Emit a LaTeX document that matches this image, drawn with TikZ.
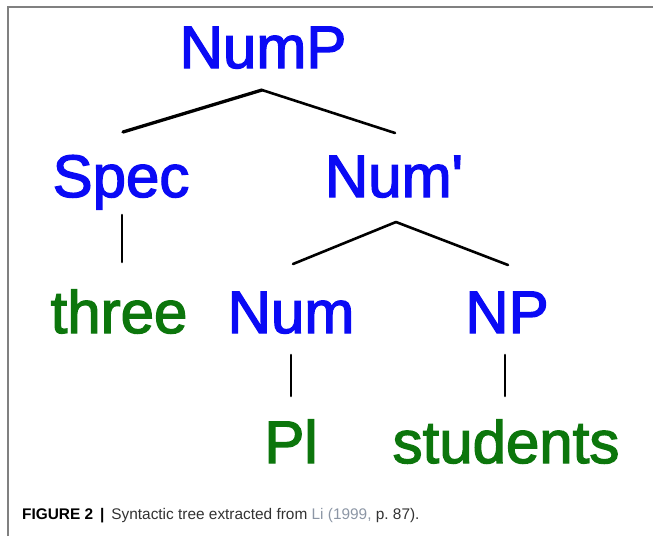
\documentclass[tikz,border=0pt]{standalone}
\usepackage{fontspec}
\setmainfont{Liberation Sans}
\newfontfamily\treefont[FakeBold=2.2]{Liberation Sans}
\usetikzlibrary{calc}
\definecolor{catblue}{RGB}{10,10,245}
\definecolor{wordgreen}{RGB}{12,118,12}
\definecolor{framegray}{RGB}{128,128,128}
\definecolor{captext}{RGB}{50,50,50}
\definecolor{caplink}{RGB}{140,150,165}
\tikzset{
  lbl/.style={anchor=base, inner sep=0pt, font=\treefont\fontsize{60}{60}\selectfont},
  cat/.style={lbl, text=catblue},
  word/.style={lbl, text=wordgreen},
  branch/.style={line width=2.6pt, line cap=round, black},
  thickbranch/.style={line width=3.3pt, line cap=round, black},
  framerule/.style={line width=1.4pt, framegray},
}
\begin{document}
\begin{tikzpicture}[x=1pt, y=-1pt]
\useasboundingbox (0,0) rectangle (655,536);
% frame
\coordinate (fTL) at (8,7);
\coordinate (fTR) at (653,7);
\coordinate (fBL) at (8,536);
\draw[framerule] (fBL) -- (fTL) -- (fTR);
% nodes
\node[cat]  (NumP)  at (263,68)  {NumP};
\node[cat]  (Spec)  at (121,197) {Spec};
\node[cat]  (Numb)  at (394,197) {Num'};
\node[word] (three) at (119,333) {three};
\node[cat]  (Num)   at (291,333) {Num};
\node[cat]  (NP)    at (507,333) {NP};
\node[word] (Pl)    at (291,463) {Pl};
\node[word] (stud)  at (506,463) {students};
% branches
\draw[thickbranch] ($(NumP.base)+(-1,22)$) -- ($(Spec.base)+(2,-65)$);
\draw[branch] ($(NumP.base)+(-1,22)$) -- ($(Numb.base)+(1,-64)$);
\draw[branch] ($(Spec.base)+(1,18)$) -- ($(three.base)+(3,-71)$);
\draw[branch] ($(Numb.base)+(2,25)$) -- ($(Num.base)+(2,-69)$);
\draw[branch] ($(Numb.base)+(2,25)$) -- ($(NP.base)+(1,-68)$);
\draw[branch] ($(Num.base)+(0,22)$) -- ($(Pl.base)+(0,-67)$);
\draw[branch] ($(NP.base)+(-2,22)$) -- ($(stud.base)+(-1,-67)$);
% caption
\node[anchor=base west, inner sep=0pt, font=\fontsize{15.4}{18}\selectfont] (cap) at (22,519)
  {\textbf{FIGURE 2}\hspace{0.45em}\textbf{|}\hspace{0.45em}\textcolor{captext}{Syntactic tree extracted from\ }\textcolor{caplink}{Li (1999,}\textcolor{captext}{\ p.\ 87).}};
\end{tikzpicture}
\end{document}
